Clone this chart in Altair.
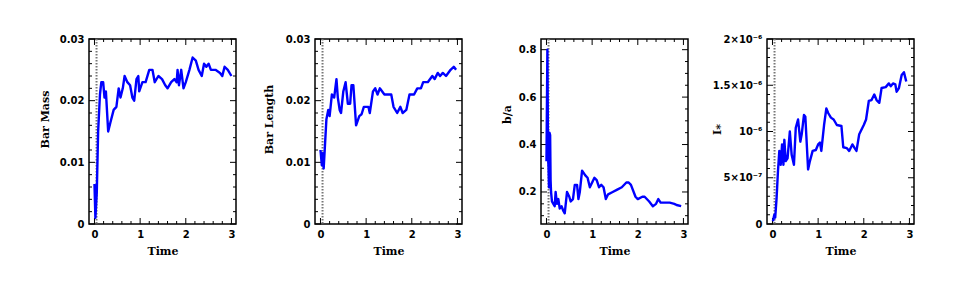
import altair as alt
import pandas as pd

# ---------------- data ----------------
t_mass = [0.0, 0.02, 0.05, 0.08, 0.12, 0.15, 0.19, 0.22, 0.25, 0.3, 0.35, 0.42, 0.48, 0.53,
          0.57, 0.62, 0.66, 0.72, 0.78, 0.83, 0.87, 0.92, 0.96, 0.98, 1.05, 1.12, 1.2, 1.27,
          1.32, 1.4, 1.48, 1.55, 1.6, 1.68, 1.75, 1.8, 1.82, 1.85, 1.9, 1.95, 2.0, 2.08, 2.15,
          2.22, 2.28, 2.35, 2.4, 2.45, 2.5, 2.55, 2.65, 2.75, 2.8, 2.85, 2.92, 3.0]
bar_mass = [0.0065, 0.001, 0.005, 0.015, 0.021, 0.023, 0.023, 0.0205, 0.0215, 0.015, 0.0165,
            0.0185, 0.019, 0.022, 0.0205, 0.022, 0.024, 0.023, 0.0225, 0.0205, 0.020, 0.0235,
            0.024, 0.0215, 0.023, 0.023, 0.025, 0.025, 0.023, 0.024, 0.0235, 0.0225, 0.022,
            0.023, 0.0235, 0.023, 0.025, 0.0225, 0.025, 0.022, 0.023, 0.025, 0.027, 0.0265,
            0.025, 0.024, 0.026, 0.0255, 0.026, 0.025, 0.025, 0.0245, 0.024, 0.0255, 0.025, 0.024]

t_len = [0.0, 0.03, 0.05, 0.07, 0.1, 0.13, 0.17, 0.2, 0.25, 0.3, 0.35, 0.38, 0.42, 0.45, 0.5,
         0.55, 0.6, 0.65, 0.68, 0.72, 0.78, 0.85, 0.9, 0.95, 1.05, 1.08, 1.15, 1.2, 1.25, 1.3,
         1.4, 1.55, 1.6, 1.68, 1.75, 1.8, 1.88, 1.95, 2.05, 2.12, 2.2, 2.25, 2.35, 2.45, 2.5,
         2.57, 2.62, 2.68, 2.75, 2.85, 2.92, 2.97]
bar_len = [0.012, 0.0095, 0.0115, 0.009, 0.013, 0.017, 0.0185, 0.0175, 0.021, 0.0205, 0.0235,
           0.0205, 0.0185, 0.018, 0.0215, 0.023, 0.0195, 0.0195, 0.0225, 0.0225, 0.016, 0.0175,
           0.0178, 0.019, 0.019, 0.018, 0.0215, 0.022, 0.021, 0.022, 0.021, 0.021, 0.019, 0.018,
           0.019, 0.018, 0.0185, 0.021, 0.021, 0.022, 0.022, 0.023, 0.023, 0.024, 0.0235, 0.0245,
           0.024, 0.0245, 0.024, 0.025, 0.0255, 0.025]

t_ba = [0.0, 0.02, 0.035, 0.045, 0.055, 0.065, 0.08, 0.09, 0.1, 0.12, 0.15, 0.18, 0.2, 0.23,
        0.26, 0.29, 0.33, 0.37, 0.4, 0.45, 0.5, 0.53, 0.58, 0.62, 0.67, 0.7, 0.73, 0.78, 0.85,
        0.9, 0.95, 1.0, 1.05, 1.1, 1.15, 1.2, 1.25, 1.3, 1.35, 1.45, 1.55, 1.65, 1.75, 1.8,
        1.85, 1.95, 2.0, 2.1, 2.15, 2.25, 2.33, 2.4, 2.45, 2.5, 2.6, 2.7, 2.8, 2.85, 2.95]
b_over_a = [0.33, 0.80, 0.35, 0.30, 0.22, 0.45, 0.44, 0.25, 0.20, 0.16, 0.15, 0.14, 0.20, 0.15,
            0.17, 0.13, 0.14, 0.12, 0.11, 0.20, 0.18, 0.16, 0.17, 0.23, 0.23, 0.17, 0.20, 0.29,
            0.27, 0.26, 0.22, 0.24, 0.26, 0.25, 0.22, 0.23, 0.22, 0.17, 0.19, 0.20, 0.21, 0.22,
            0.24, 0.24, 0.23, 0.18, 0.17, 0.18, 0.18, 0.16, 0.14, 0.15, 0.17, 0.155, 0.155,
            0.155, 0.15, 0.145, 0.14]

t_iz = [0.01, 0.04, 0.06, 0.09, 0.12, 0.15, 0.18, 0.21, 0.24, 0.26, 0.29, 0.33, 0.38, 0.42,
        0.47, 0.51, 0.56, 0.61, 0.64, 0.69, 0.72, 0.78, 0.82, 0.88, 0.95, 1.0, 1.04, 1.07, 1.13,
        1.18, 1.22, 1.28, 1.34, 1.41, 1.51, 1.55, 1.63, 1.68, 1.75, 1.8, 1.84, 1.9, 2.0, 2.05,
        2.11, 2.17, 2.23, 2.28, 2.34, 2.39, 2.48, 2.55, 2.59, 2.64, 2.69, 2.72, 2.77, 2.83,
        2.88, 2.93]
i_z = [0.03e-6, 0.10e-6, 0.07e-6, 0.28e-6, 0.57e-6, 0.79e-6, 0.64e-6, 0.86e-6, 0.64e-6,
       0.91e-6, 0.68e-6, 0.71e-6, 1.00e-6, 0.75e-6, 0.64e-6, 1.04e-6, 1.13e-6, 0.89e-6,
       0.97e-6, 1.18e-6, 1.16e-6, 0.59e-6, 0.68e-6, 0.79e-6, 0.80e-6, 0.86e-6, 0.88e-6,
       0.79e-6, 1.07e-6, 1.25e-6, 1.20e-6, 1.15e-6, 1.13e-6, 1.07e-6, 1.06e-6, 0.83e-6,
       0.82e-6, 0.79e-6, 0.86e-6, 0.82e-6, 0.79e-6, 0.97e-6, 1.07e-6, 1.13e-6, 1.33e-6,
       1.34e-6, 1.40e-6, 1.34e-6, 1.31e-6, 1.47e-6, 1.48e-6, 1.52e-6, 1.49e-6, 1.52e-6,
       1.51e-6, 1.43e-6, 1.47e-6, 1.61e-6, 1.64e-6, 1.54e-6]

# axis ticks
x_domain = [-0.12, 3.1]
x_major = [0, 1, 2, 3]
x_minor = [0.2, 0.4, 0.6, 0.8, 1.2, 1.4, 1.6, 1.8, 2.2, 2.4, 2.6, 2.8]

frac_domain = [0, 0.03]
frac_major = [0, 0.01, 0.02, 0.03]
frac_minor = [0.002, 0.004, 0.006, 0.008, 0.012, 0.014, 0.016, 0.018,
              0.022, 0.024, 0.026, 0.028]

ba_domain = [0.065, 0.845]
ba_major = [0.2, 0.4, 0.6, 0.8]
ba_minor = [0.1, 0.15, 0.25, 0.3, 0.35, 0.45, 0.5, 0.55, 0.65, 0.7, 0.75]

iz_domain = [0, 2e-6]
iz_major = [0, 5e-7, 1e-6, 1.5e-6, 2e-6]
iz_minor = [1e-7, 2e-7, 3e-7, 4e-7, 6e-7, 7e-7, 8e-7, 9e-7, 1.1e-6, 1.2e-6, 1.3e-6,
            1.4e-6, 1.6e-6, 1.7e-6, 1.8e-6, 1.9e-6]

dotted_t = 0.045

W, H = 147, 185
MAJ, MIN = 6, 3

frac_expr = "datum.value == 0 ? '0' : format(datum.value, '.2f')"
ba_expr = "format(datum.value, '.1f')"
iz_expr = ("datum.value < 2.5e-7 ? '0' : datum.value < 7.5e-7 ? '5×10⁻⁷' : "
           "datum.value < 1.25e-6 ? '10⁻⁶' : datum.value < 1.75e-6 ? '1.5×10⁻⁶' : '2×10⁻⁶'")


def panel(t, v, ydomain, ymajor, yminor, title, title_x, title_y, label_expr):
    xscale = alt.Scale(domain=x_domain, nice=False, zero=False)
    yscale = alt.Scale(domain=ydomain, nice=False, zero=False)
    xaxis = alt.Axis(values=x_major, ticks=False, domain=False, grid=False, title="Time",
                     labelPadding=5, titlePadding=6, labelFlush=False, format="d")
    yaxis = alt.Axis(values=ymajor, ticks=False, domain=False, grid=False, title=title,
                     titleAngle=270, titleX=title_x, titleY=title_y, titleAlign="center",
                     titleBaseline="middle", labelPadding=5, labelFlush=False,
                     labelExpr=label_expr)
    X = alt.X("t:Q", scale=xscale, axis=xaxis)
    Y = alt.Y("v:Q", scale=yscale, axis=yaxis)

    layers = []
    layers.append(
        alt.Chart(pd.DataFrame({"t": [dotted_t]}))
        .mark_rule(color="#777777", strokeDash=[1.5, 1.5], strokeWidth=2)
        .encode(x=X)
    )
    for vals, ln in ((x_major, MAJ), (x_minor, MIN)):
        d = pd.DataFrame({"t": vals})
        layers.append(alt.Chart(d).mark_rule(color="black", strokeWidth=1)
                      .encode(x=X, y=alt.value(H), y2=alt.value(H - ln)))
        layers.append(alt.Chart(d).mark_rule(color="black", strokeWidth=1)
                      .encode(x=X, y=alt.value(0), y2=alt.value(ln)))
    for vals, ln in ((ymajor, MAJ), (yminor, MIN)):
        d = pd.DataFrame({"v": vals})
        layers.append(alt.Chart(d).mark_rule(color="black", strokeWidth=1)
                      .encode(y=Y, x=alt.value(0), x2=alt.value(ln)))
        layers.append(alt.Chart(d).mark_rule(color="black", strokeWidth=1)
                      .encode(y=Y, x=alt.value(W), x2=alt.value(W - ln)))
    layers.append(
        alt.Chart(pd.DataFrame({"t": t, "v": v}))
        .mark_line(color="#0000ff", strokeWidth=2.4, strokeJoin="round")
        .encode(x=X, y=Y)
    )
    return alt.layer(*layers).properties(width=W, height=H)


p1 = panel(t_mass, bar_mass, frac_domain, frac_major, frac_minor, "Bar Mass", -44, 80, frac_expr)
p2 = panel(t_len, bar_len, frac_domain, frac_major, frac_minor, "Bar Length", -46, 80, frac_expr)
p3 = panel(t_ba, b_over_a, ba_domain, ba_major, ba_minor, "b/a", -34, 75, ba_expr)
p4 = panel(t_iz, i_z, iz_domain, iz_major, iz_minor, "I⁎", -50, 90, iz_expr)

chart = (
    alt.hconcat(p1, p2, p3, p4, spacing=79, bounds="flush")
    .properties(padding={"left": 30, "top": 25, "right": 5, "bottom": 5},
                background="white")
    .configure_view(stroke="black", strokeWidth=1.5)
    .configure_axis(labelFont="DejaVu Sans", labelFontWeight="bold", labelFontSize=10,
                    labelColor="black", titleFont="DejaVu Serif", titleFontSize=11,
                    titleFontWeight="bold", titleColor="black")
)

chart.save("out.html", embed_options={"renderer": "svg", "actions": False})
